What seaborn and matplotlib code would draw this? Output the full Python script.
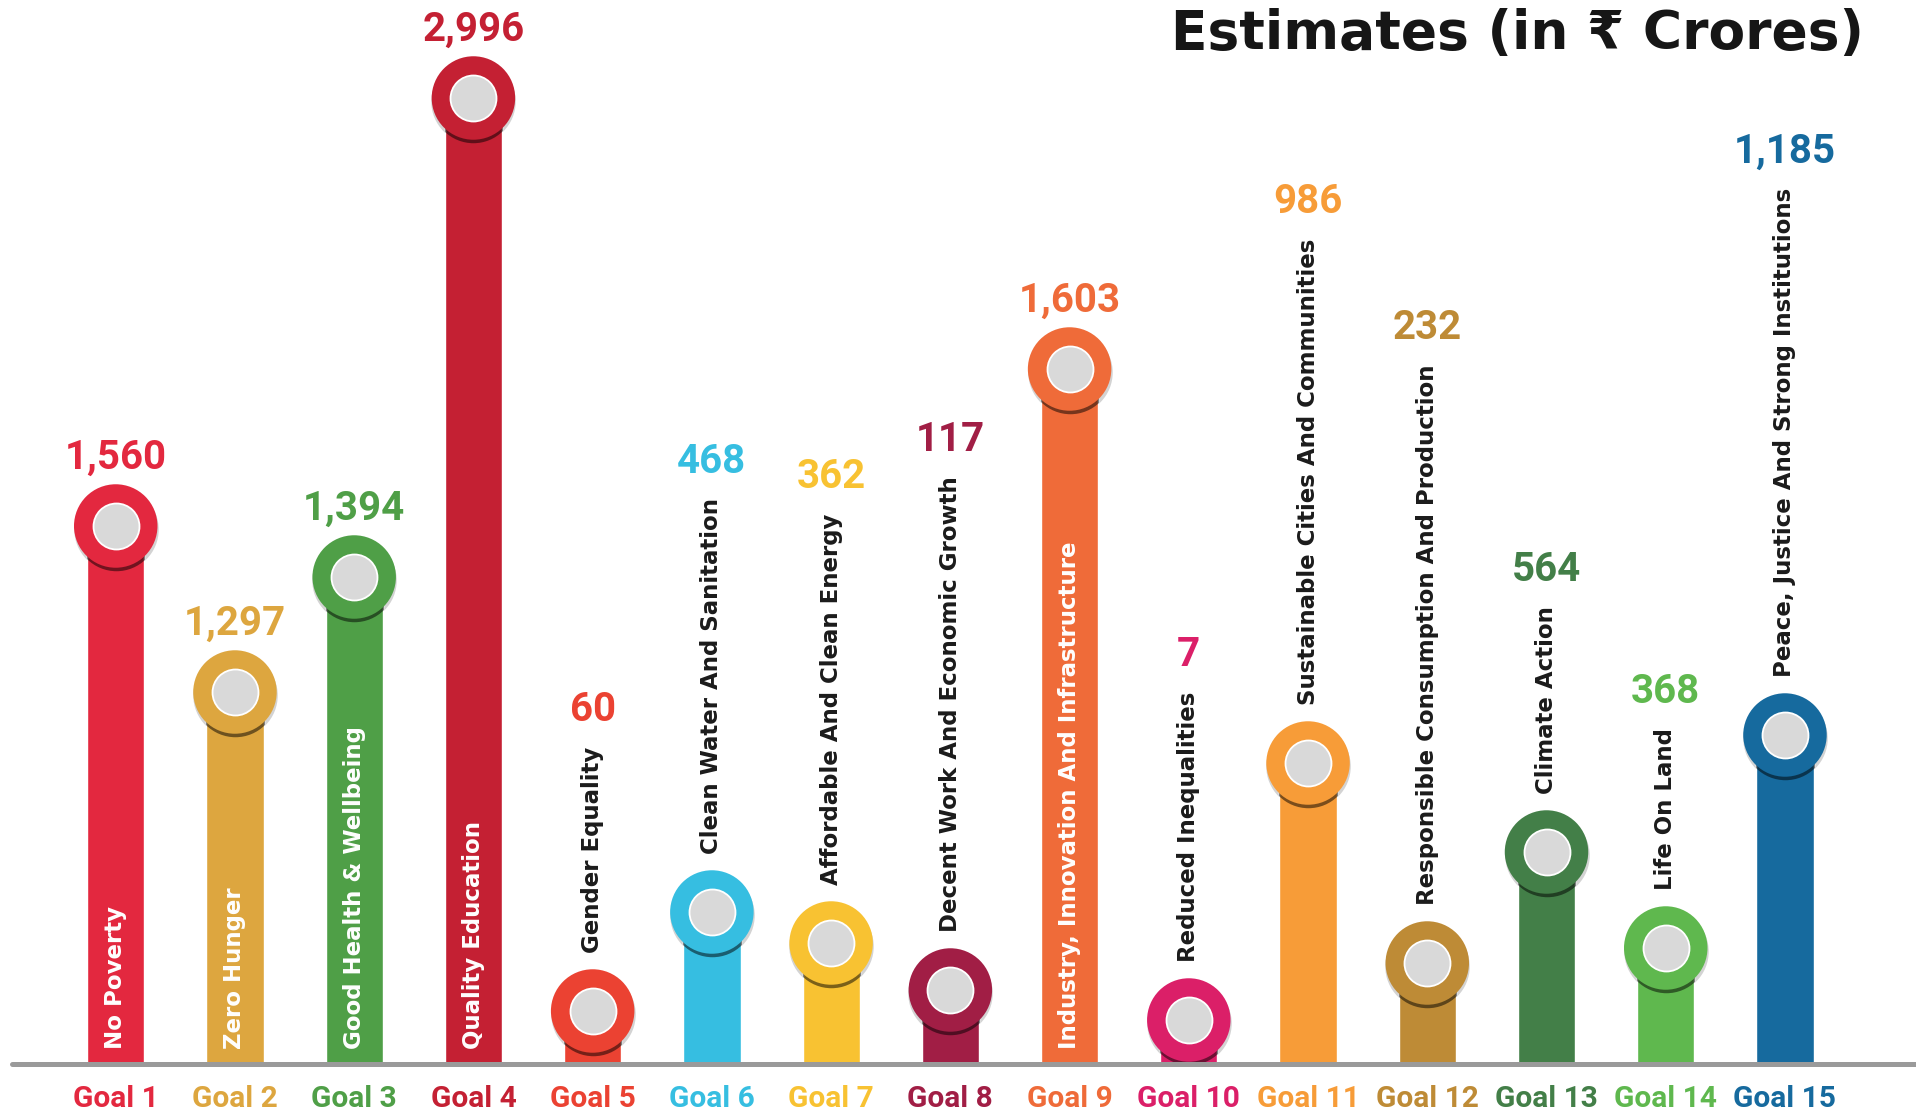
import matplotlib
matplotlib.use("Agg")
import matplotlib.pyplot as plt
import seaborn as sns
import pandas as pd
from matplotlib.transforms import offset_copy

goals = ["Goal 1", "Goal 2", "Goal 3", "Goal 4", "Goal 5", "Goal 6", "Goal 7", "Goal 8",
         "Goal 9", "Goal 10", "Goal 11", "Goal 12", "Goal 13", "Goal 14", "Goal 15"]
names = ["No Poverty", "Zero Hunger", "Good Health & Wellbeing", "Quality Education",
         "Gender Equality", "Clean Water And Sanitation", "Affordable And Clean Energy",
         "Decent Work And Economic Growth", "Industry, Innovation And Infrastructure",
         "Reduced Inequalities", "Sustainable Cities And Communities",
         "Responsible Consumption And Production", "Climate Action", "Life On Land",
         "Peace, Justice And Strong Institutions"]
estimates = [1560, 1297, 1394, 2996, 60, 468, 362, 117, 1603, 7, 986, 232, 564, 368, 1185]
# the infographic does not scale its bars to the numbers, so these are the drawn heights
drawn_heights = [538, 372, 487, 966, 53, 152, 121, 74, 695, 44, 301, 101, 212, 116, 329]
label_inside = [True, True, True, True, False, False, False, False, True,
                False, False, False, False, False, False]
colors = ["#E3283F", "#DDA63F", "#4F9F47", "#C42033", "#EB4232", "#36BEE1", "#F8C232",
          "#A11E45", "#EF6B39", "#DB1F68", "#F79C38", "#BE8B36", "#437F48", "#5FB84E", "#166A9E"]

df = pd.DataFrame({"goal": goals, "name": names, "estimate": estimates, "height": drawn_heights})

sns.set_theme(style="white")
plt.rcParams["font.family"] = ["DejaVu Sans"]
num_font = ["Roboto", "DejaVu Sans"]

fig = plt.figure(figsize=(19.16, 11.17), dpi=100)
fig.patch.set_facecolor("white")
ax = fig.add_axes([12 / 1916, 53 / 1117, 1904 / 1916, 1064 / 1117])
ax.set_facecolor("none")

sns.barplot(data=df, x="goal", y="height", hue="goal", palette=colors, legend=False,
            width=0.48, saturation=1, ax=ax, zorder=2)

# knobs on top of every bar: soft halo, dark rim on the bar, coloured ring, grey centre
xs = list(range(len(goals)))
shadow = offset_copy(ax.transData, fig=fig, x=0, y=-3, units="dots")
ax.scatter(xs, df["height"], s=3700, color="#9e9e9e", alpha=0.45, linewidths=0,
           transform=shadow, zorder=1.5)
for i, cont in enumerate(ax.containers):
    rim = ax.scatter([i], [drawn_heights[i]], s=3612, color="black", alpha=0.5,
                     linewidths=0, transform=shadow, zorder=3)
    rim.set_clip_path(cont.patches[0])
ax.scatter(xs, df["height"], s=3612, c=colors, linewidths=0, zorder=4)
ax.scatter(xs, df["height"], s=1096, color="#d9d9d9", edgecolors="white",
           linewidths=1.3, zorder=5)

for i, row in df.iterrows():
    value = f"{row['estimate']:,}"
    if label_inside[i]:
        ax.annotate(row["name"], xy=(i, 0), xytext=(0, 11), textcoords="offset points",
                    rotation=90, ha="center", va="bottom", color="white",
                    fontsize=16.5, fontweight="bold", zorder=6, annotation_clip=False)
        ax.annotate(value, xy=(i, row["height"]), xytext=(0, 41), textcoords="offset points",
                    ha="center", va="baseline", color=colors[i], fontsize=29,
                    fontweight="bold", family=num_font, annotation_clip=False)
    else:
        t = ax.annotate(row["name"], xy=(i, row["height"]), xytext=(0, 42),
                        textcoords="offset points", rotation=90, ha="center", va="bottom",
                        color="#1b1b1b", fontsize=16.5, fontweight="bold",
                        annotation_clip=False)
        ax.annotate(value, xy=(0.5, 1), xycoords=t, xytext=(0, 18), textcoords="offset points",
                    ha="center", va="baseline", color=colors[i], fontsize=29,
                    fontweight="bold", family=num_font, annotation_clip=False)

ax.set_xlim(-0.870, 15.099)
ax.set_ylim(0, 1064)
ax.set_xlabel("")
ax.set_ylabel("")
ax.set_yticks([])
ax.tick_params(axis="x", length=0, pad=15, labelsize=21.5)
for lbl, c in zip(ax.get_xticklabels(), colors):
    lbl.set_color(c)
    lbl.set_fontweight("bold")
    lbl.set_family(num_font)
sns.despine(ax=ax, left=True, bottom=True)
ax.axhline(0, color="#9a9a9a", lw=3.6, clip_on=False, zorder=7)

fig.text(0.973, 1 - 49 / 1117, "Estimates (in ₹ Crores)", ha="right", va="baseline",
         fontsize=38.5, fontweight="bold", color="#161616")

fig.savefig("out.png", dpi=100)
